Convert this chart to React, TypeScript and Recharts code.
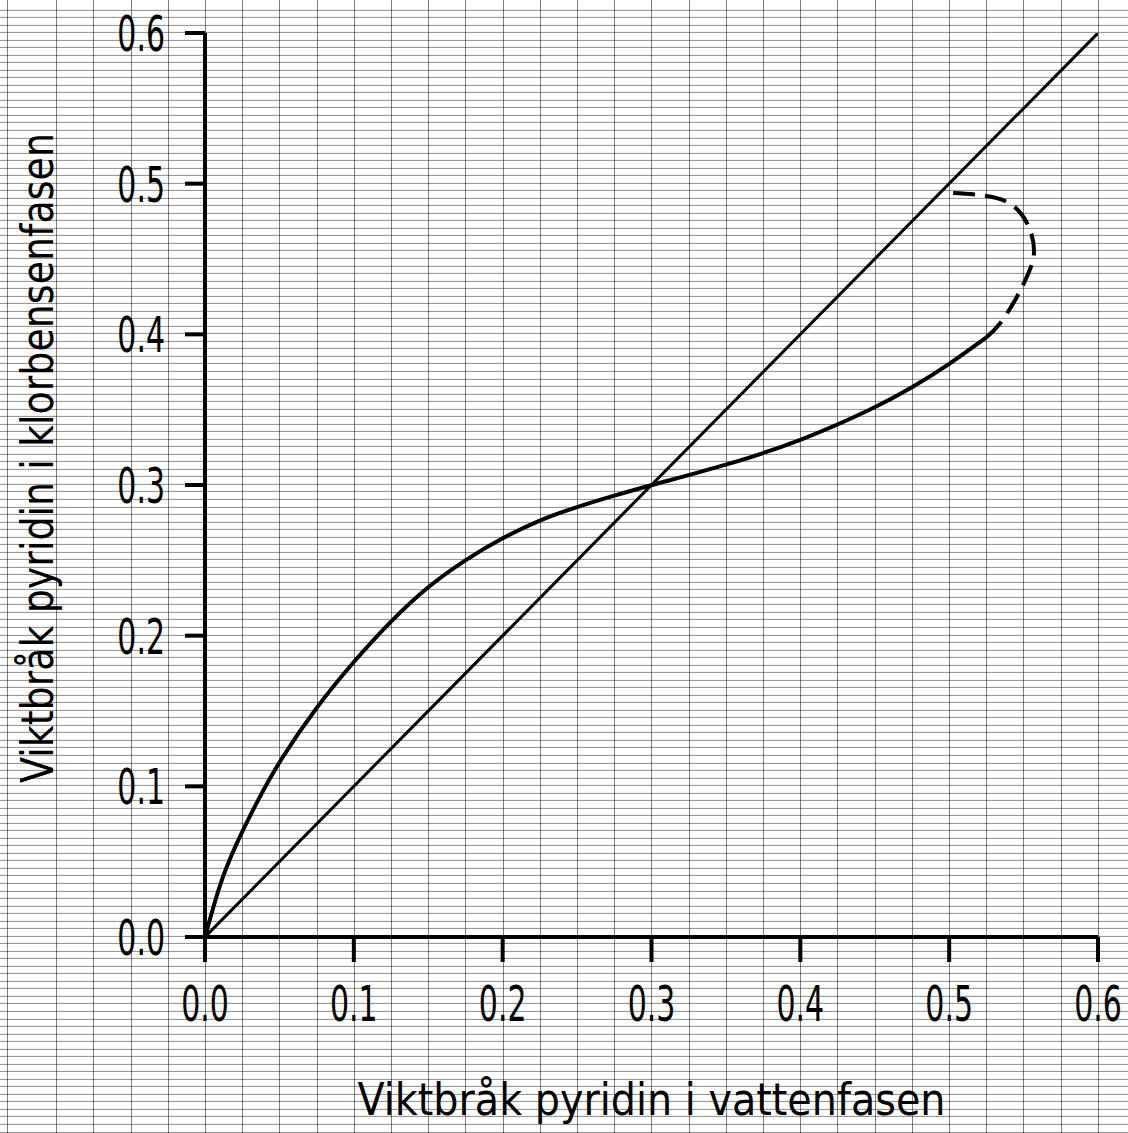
import React from 'react';
import { LineChart, Line, XAxis, YAxis } from 'recharts';

// tick values on both axes
const axisTicks = [0, 0.1, 0.2, 0.3, 0.4, 0.5, 0.6];

// diagonal y = x
const diagX = [0, 0.6];
const diagY = [0, 0.6];

// equilibrium curve, solid part
const eqX = [0, 0.01, 0.02, 0.035, 0.05, 0.075, 0.1, 0.125, 0.15, 0.175, 0.2, 0.225, 0.25, 0.275, 0.3, 0.35, 0.4, 0.45, 0.475, 0.5, 0.525];
const eqY = [0, 0.036, 0.06, 0.09, 0.117, 0.153, 0.183, 0.21, 0.233, 0.2505, 0.265, 0.277, 0.2855, 0.293, 0.3, 0.313, 0.329, 0.351, 0.3645, 0.38, 0.398];

// dashed extrapolation (loops back to the diagonal)
const dashX = [0.525, 0.534, 0.545, 0.553, 0.557, 0.553, 0.542, 0.524, 0.497];
const dashY = [0.398, 0.407, 0.424, 0.44, 0.455, 0.4725, 0.486, 0.492, 0.494];

const xTitle = 'Viktbråk pyridin i vattenfasen';
const yTitle = 'Viktbråk pyridin i klorbensenfasen';

const zip = (xs: number[], ys: number[]) => xs.map((x, i) => ({ x, y: ys[i] }));

const FONT = '"DejaVu Sans", sans-serif';

const YTick = (props: any) => {
  const { x, y, payload } = props;
  return (
    <text
      transform={`translate(${x},${y + 18}) scale(0.6,1)`}
      textAnchor="end"
      fontSize={50}
      fontFamily={FONT}
      fill="#000"
    >
      {Number(payload.value).toFixed(1)}
    </text>
  );
};

const XTick = (props: any) => {
  const { x, y, payload } = props;
  return (
    <text
      transform={`translate(${x},${y + 37}) scale(0.6,1)`}
      textAnchor="middle"
      fontSize={50}
      fontFamily={FONT}
      fill="#000"
    >
      {Number(payload.value).toFixed(1)}
    </text>
  );
};

const paper = {
  backgroundColor: '#fff',
  backgroundImage: [
    'repeating-linear-gradient(to bottom, transparent 0px, transparent 6.53px, rgba(0,0,0,0.45) 6.53px, rgba(0,0,0,0.45) 7.53px)',
    'repeating-linear-gradient(to right, transparent 0px, transparent 36.2px, rgba(0,0,0,0.5) 36.2px, rgba(0,0,0,0.5) 37.2px)',
  ].join(','),
  backgroundPosition: '0px 2.9px, 20px 0px',
};

export default function App() {
  return (
    <div style={{ position: 'absolute', left: 0, top: 0, width: 1128, height: 1133, ...paper }}>
      <LineChart width={1128} height={1133} margin={{ top: 33, right: 30, left: 0, bottom: 0 }}>
        <XAxis
          type="number"
          dataKey="x"
          domain={[0, 0.6]}
          ticks={axisTicks}
          allowDataOverflow
          height={196}
          axisLine={{ stroke: '#000', strokeWidth: 4 }}
          tickLine={{ stroke: '#000', strokeWidth: 4 }}
          tickSize={25}
          tickMargin={22}
          tick={<XTick />}
          label={{
            content: (p: any) => (
              <text
                x={p.viewBox.x + p.viewBox.width / 2}
                y={1115}
                textAnchor="middle"
                fontSize={45}
                fontFamily={FONT}
                textLength={588}
                lengthAdjust="spacingAndGlyphs"
                fill="#000"
              >
                {xTitle}
              </text>
            ),
          }}
        />
        <YAxis
          type="number"
          dataKey="y"
          domain={[0, 0.6]}
          ticks={axisTicks}
          allowDataOverflow
          width={205}
          axisLine={{ stroke: '#000', strokeWidth: 4 }}
          tickLine={{ stroke: '#000', strokeWidth: 4 }}
          tickSize={20}
          tickMargin={20}
          tick={<YTick />}
          label={{
            content: () => (
              <text
                x={53}
                y={458}
                transform="rotate(-90 53 458)"
                textAnchor="middle"
                fontSize={45}
                fontFamily={FONT}
                textLength={650}
                lengthAdjust="spacingAndGlyphs"
                fill="#000"
              >
                {yTitle}
              </text>
            ),
          }}
        />
        <Line
          data={zip(diagX, diagY)}
          dataKey="y"
          type="linear"
          stroke="#000"
          strokeWidth={3}
          dot={false}
          isAnimationActive={false}
        />
        <Line
          data={zip(eqX, eqY)}
          dataKey="y"
          type="basis"
          stroke="#000"
          strokeWidth={4}
          dot={false}
          isAnimationActive={false}
        />
        <Line
          data={zip(dashX, dashY)}
          dataKey="y"
          type="natural"
          stroke="#000"
          strokeWidth={4}
          strokeDasharray="22 10"
          dot={false}
          isAnimationActive={false}
        />
      </LineChart>
    </div>
  );
}
